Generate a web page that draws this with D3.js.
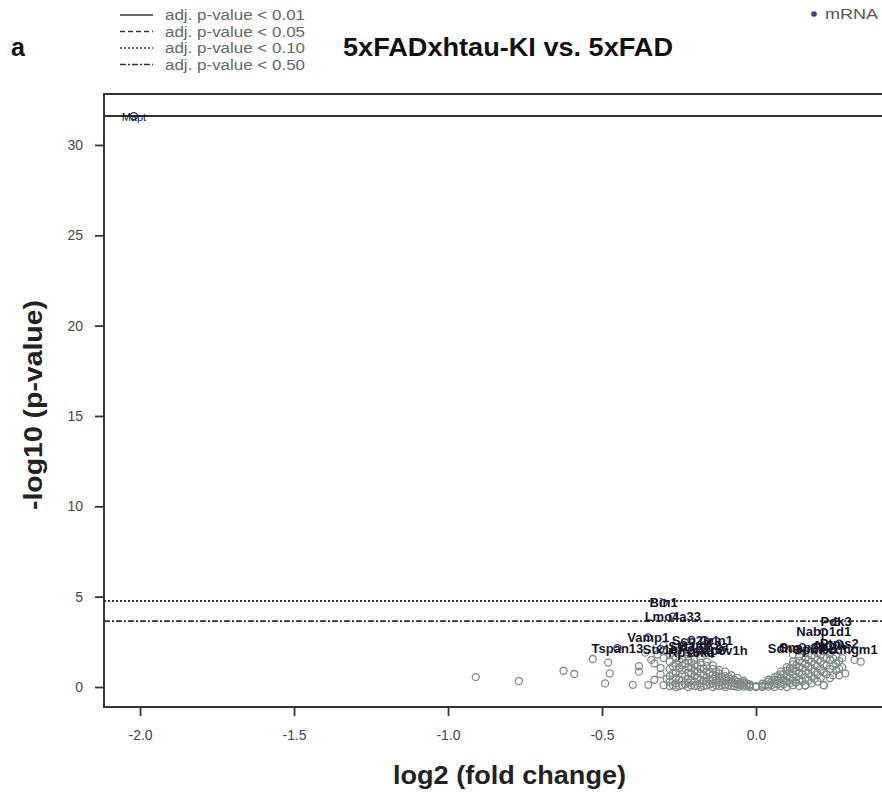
<!DOCTYPE html>
<html>
<head>
<meta charset="utf-8">
<script src="https://cdn.jsdelivr.net/npm/d3@7"></script>
<style>
  body { margin: 0; background: #fff; }
  svg { display: block; font-family: "Liberation Sans", Arial, sans-serif; }
</style>
</head>
<body>
<script>
// Threshold legend entries and their -log10(p) cut-offs
const thresholdLabels = ['adj. p-value < 0.01', 'adj. p-value < 0.05', 'adj. p-value < 0.10', 'adj. p-value < 0.50'];
const thresholdCuts = [31.6, 31.6, 4.76, 3.65];

// Axis ticks
const xTicks = [-2.0, -1.5, -1.0, -0.5, 0.0];
const yTicks = [0, 5, 10, 15, 20, 25, 30];

// Non-significant genes: [log2 fold change, -log10 p]
const grayGenes = [
  [-0.91, 0.55], [-0.77, 0.33], [-0.625, 0.9], [-0.59, 0.72], [-0.53, 1.55], [-0.48, 1.35],
  [-0.475, 0.75], [-0.49, 0.2], [-0.38, 1.15], [-0.38, 0.85], [-0.40, 0.12], [-0.35, 0.12],
  [-0.30, 0.1], [-0.34, 1.5], [-0.31, 1.05], [-0.33, 0.4], [-0.27, 0.1], [-0.32, 1.8],
  [-0.29, 2.0], [-0.36, 1.9],
  [-0.28, 0.05], [-0.28, 0.3], [-0.28, 0.6], [-0.28, 1.0], [-0.28, 1.4], [-0.28, 1.8],
  [-0.26, 0.0], [-0.26, 0.2], [-0.26, 0.5], [-0.26, 0.8], [-0.26, 1.3], [-0.26, 1.6], [-0.26, 2.0],
  [-0.24, 0.1], [-0.24, 0.35], [-0.24, 0.7], [-0.24, 0.95], [-0.24, 1.2], [-0.24, 1.55], [-0.24, 1.9],
  [-0.22, 0.0], [-0.22, 0.25], [-0.22, 0.45], [-0.22, 0.8], [-0.22, 1.1], [-0.22, 1.45], [-0.22, 1.7],
  [-0.20, 0.05], [-0.20, 0.3], [-0.20, 0.6], [-0.20, 0.9], [-0.20, 1.25], [-0.20, 1.5],
  [-0.18, 0.0], [-0.18, 0.2], [-0.18, 0.4], [-0.18, 0.75], [-0.18, 1.0], [-0.18, 1.35], [-0.18, 1.6],
  [-0.16, 0.1], [-0.16, 0.3], [-0.16, 0.55], [-0.16, 0.85], [-0.16, 1.15], [-0.16, 1.4],
  [-0.14, 0.0], [-0.14, 0.2], [-0.14, 0.45], [-0.14, 0.7], [-0.14, 1.0], [-0.14, 1.2],
  [-0.12, 0.05], [-0.12, 0.25], [-0.12, 0.5], [-0.12, 0.75], [-0.12, 0.95],
  [-0.10, 0.0], [-0.10, 0.15], [-0.10, 0.4], [-0.10, 0.6], [-0.10, 0.85],
  [-0.08, 0.05], [-0.08, 0.25], [-0.08, 0.45], [-0.08, 0.65],
  [-0.06, 0.0], [-0.06, 0.15], [-0.06, 0.3], [-0.06, 0.5],
  [-0.04, 0.02], [-0.04, 0.12], [-0.04, 0.25], [-0.04, 0.35],
  [-0.02, 0.0], [-0.02, 0.08], [-0.02, 0.15],
  [0.0, 0.0], [0.0, 0.05],
  [0.02, 0.0], [0.02, 0.08], [0.02, 0.18],
  [0.04, 0.02], [0.04, 0.15], [0.04, 0.3], [0.04, 0.4],
  [0.06, 0.0], [0.06, 0.2], [0.06, 0.4], [0.06, 0.55],
  [0.08, 0.05], [0.08, 0.25], [0.08, 0.5], [0.08, 0.7], [0.08, 0.85],
  [0.10, 0.0], [0.10, 0.3], [0.10, 0.6], [0.10, 0.9], [0.10, 1.1],
  [0.12, 0.1], [0.12, 0.35], [0.12, 0.7], [0.12, 1.0], [0.12, 1.25], [0.12, 1.4],
  [0.14, 0.05], [0.14, 0.4], [0.14, 0.8], [0.14, 1.1], [0.14, 1.45], [0.14, 1.7],
  [0.16, 0.1], [0.16, 0.5], [0.16, 0.9], [0.16, 1.3], [0.16, 1.6], [0.16, 1.9],
  [0.18, 0.2], [0.18, 0.6], [0.18, 1.0], [0.18, 1.4], [0.18, 1.75], [0.18, 2.1],
  [0.20, 0.3], [0.20, 0.7], [0.20, 1.15], [0.20, 1.5], [0.20, 1.9],
  [0.22, 0.1], [0.22, 0.8], [0.22, 1.25], [0.22, 1.65], [0.22, 2.0],
  [0.24, 0.5], [0.24, 1.0], [0.24, 1.5], [0.24, 1.85],
  [0.26, 0.9], [0.26, 1.3], [0.26, 1.7], [0.28, 1.1], [0.28, 1.6],
  [0.32, 1.5], [0.34, 1.4], [0.25, 0.65], [0.27, 0.65], [0.29, 0.75], [0.22, 0.1], [0.16, 0.08],
  [-0.33, 1.3], [-0.31, 0.7], [-0.30, 1.6], [-0.29, 0.45], [-0.27, 0.75], [-0.27, 1.15],
  [-0.25, 0.05], [-0.25, 0.4], [-0.25, 1.05], [-0.25, 1.45], [-0.23, 0.15], [-0.23, 0.6],
  [-0.23, 1.3], [-0.21, 0.1], [-0.21, 0.4], [-0.21, 0.75], [-0.21, 1.05], [-0.21, 1.35],
  [-0.19, 0.1], [-0.19, 0.5], [-0.19, 0.85], [-0.19, 1.15], [-0.17, 0.05], [-0.17, 0.35],
  [-0.17, 0.65], [-0.17, 1.0], [-0.15, 0.15], [-0.15, 0.4], [-0.15, 0.75], [-0.13, 0.1],
  [-0.13, 0.35], [-0.13, 0.6], [-0.13, 0.85], [-0.11, 0.1], [-0.11, 0.3], [-0.11, 0.55],
  [-0.09, 0.1], [-0.09, 0.35], [-0.09, 0.55], [-0.07, 0.05], [-0.07, 0.2], [-0.07, 0.4],
  [-0.05, 0.1], [-0.05, 0.22], [-0.03, 0.05], [-0.03, 0.18],
  [0.03, 0.1], [0.05, 0.1], [0.05, 0.28], [0.07, 0.15], [0.07, 0.35], [0.07, 0.6],
  [0.09, 0.15], [0.09, 0.4], [0.09, 0.7], [0.11, 0.2], [0.11, 0.5], [0.11, 0.8], [0.11, 1.05],
  [0.13, 0.25], [0.13, 0.55], [0.13, 0.9], [0.13, 1.2], [0.15, 0.3], [0.15, 0.7], [0.15, 1.05],
  [0.15, 1.35], [0.17, 0.35], [0.17, 0.75], [0.17, 1.15], [0.17, 1.5], [0.19, 0.45],
  [0.19, 0.85], [0.19, 1.25], [0.19, 1.65], [0.21, 0.5], [0.21, 0.95], [0.21, 1.4], [0.21, 1.8],
  [0.23, 0.7], [0.23, 1.2], [0.23, 1.6], [0.25, 1.15], [0.25, 1.6], [0.27, 1.0], [0.27, 1.45],
  [-0.30, 2.3], [-0.26, 2.4], [-0.20, 2.3], [-0.15, 1.9], [0.12, 1.8], [0.14, 2.0], [0.20, 2.3]
];

// Labelled (significant) genes
const labelGenes = ['Mapt', 'Bin1', 'Lmo4a33', 'Vamp1', 'Scn2b', 'Grin1', 'Tspan13', 'Stx1b', 'Ppp2r5',
  'Atp6v1h', 'Rps6ka', 'Syt1', 'Camk2a', 'Pdk3', 'Nabp1d1', 'Ptms2', 'Sdha', 'Gpm6b', 'Pcdhgm1',
  'Snap25', 'Nrgn'];
const labelFC = [-2.02, -0.30, -0.27, -0.35, -0.21, -0.13, -0.45, -0.31, -0.18,
  -0.11, -0.21, -0.24, -0.17, 0.26, 0.22, 0.27, 0.09, 0.19, 0.30,
  0.15, 0.24];
const labelP = [31.6, 4.65, 3.9, 2.75, 2.6, 2.55, 2.15, 2.1, 2.05,
  2.0, 1.9, 2.25, 2.3, 3.6, 3.05, 2.4, 2.15, 2.1, 2.1,
  2.2, 2.3];

const W = 882, H = 796;
const plot = { left: 104, top: 94, right: 900, bottom: 707 };

const svg = d3.select('body').append('svg')
  .attr('width', W)
  .attr('height', H);

const x = d3.scaleLinear().domain([-2.117, 0.4675]).range([plot.left, plot.right]);
const y = d3.scaleLinear().domain([-1.107, 32.82]).range([plot.bottom, plot.top]);

const axisColor = '#333';
const textGray = '#444';

// Panel letter and title (the source image is a little wider than tall, so texts are stretched)
svg.append('text').attr('x', 11).attr('y', 56)
  .attr('font-size', 25).attr('font-weight', 'bold').attr('fill', '#111').text('a');
svg.append('text').attr('x', 343).attr('y', 56)
  .attr('font-size', 25).attr('font-weight', 'bold').attr('fill', '#111')
  .attr('textLength', 330).attr('lengthAdjust', 'spacingAndGlyphs')
  .text('5xFADxhtau-KI vs. 5xFAD');

// Threshold legend
const dashes = [null, '5,3', '2,2', '6,2,2,2'];
const legend = svg.append('g');
thresholdLabels.forEach((lab, i) => {
  const yy = 15 + i * 16.5;
  legend.append('line').attr('x1', 120).attr('x2', 153).attr('y1', yy).attr('y2', yy)
    .attr('stroke', '#333').attr('stroke-width', 1.5)
    .attr('stroke-dasharray', dashes[i]);
  legend.append('text').attr('x', 165).attr('y', yy + 5)
    .attr('font-size', 14).attr('fill', '#666')
    .attr('textLength', 140).attr('lengthAdjust', 'spacingAndGlyphs')
    .text(lab);
});

// mRNA legend
svg.append('circle').attr('cx', 814).attr('cy', 14).attr('r', 2.8).attr('fill', '#3a3a8a');
svg.append('text').attr('x', 825).attr('y', 19).attr('font-size', 14).attr('fill', '#555')
  .attr('textLength', 53).attr('lengthAdjust', 'spacingAndGlyphs').text('mRNA');

// Clip region for plot contents
svg.append('clipPath').attr('id', 'clip').append('rect')
  .attr('x', plot.left).attr('y', plot.top)
  .attr('width', plot.right - plot.left).attr('height', plot.bottom - plot.top);
const g = svg.append('g').attr('clip-path', 'url(#clip)');

// Threshold lines (draw solid last)
[1, 2, 3, 0].forEach(i => {
  g.append('line')
    .attr('x1', plot.left).attr('x2', plot.right)
    .attr('y1', y(thresholdCuts[i])).attr('y2', y(thresholdCuts[i]))
    .attr('stroke', '#333').attr('stroke-width', i === 0 ? 2 : 1.8)
    .attr('stroke-dasharray', dashes[i]);
});

// Gray points
g.selectAll('circle.gray')
  .data(grayGenes)
  .enter().append('circle')
  .attr('class', 'gray')
  .attr('cx', d => x(d[0]))
  .attr('cy', d => y(d[1]))
  .attr('r', 3.5)
  .attr('fill', 'none')
  .attr('stroke', '#7f8a86')
  .attr('stroke-width', 1.3);

// Labelled genes: points and text
const labelled = labelGenes.map((gene, i) => ({ gene, fc: labelFC[i], p: labelP[i] }));
g.selectAll('circle.sig')
  .data(labelled)
  .enter().append('circle')
  .attr('class', 'sig')
  .attr('cx', d => x(d.fc))
  .attr('cy', d => y(d.p))
  .attr('r', 3.5)
  .attr('fill', 'none')
  .attr('stroke', '#2c2c66')
  .attr('stroke-width', 1.3);
g.selectAll('text.sig')
  .data(labelled)
  .enter().append('text')
  .attr('class', 'sig')
  .attr('x', d => x(d.fc))
  .attr('y', d => y(d.p) + 4.5)
  .attr('text-anchor', 'middle')
  .attr('font-size', d => d.gene === 'Mapt' ? 11 : 13)
  .attr('font-weight', d => d.gene === 'Mapt' ? 'normal' : 'bold')
  .attr('fill', '#15152a')
  .text(d => d.gene);

// Box (left, top, bottom)
svg.append('path')
  .attr('d', `M${plot.right},${plot.top}H${plot.left}V${plot.bottom}H${plot.right}`)
  .attr('fill', 'none').attr('stroke', axisColor).attr('stroke-width', 2);

// X axis
const xAxis = svg.append('g').attr('transform', `translate(0,${plot.bottom})`)
  .call(d3.axisBottom(x).tickValues(xTicks).tickSize(9).tickPadding(14)
    .tickFormat(d => d.toFixed(1)));
xAxis.select('.domain').remove();
xAxis.selectAll('line').attr('stroke', axisColor).attr('stroke-width', 1.8);
xAxis.selectAll('text').attr('font-size', 14).attr('fill', textGray)
  .attr('font-family', '"Liberation Sans", Arial, sans-serif');

// Y axis
const yAxis = svg.append('g').attr('transform', `translate(${plot.left},0)`)
  .call(d3.axisLeft(y).tickValues(yTicks).tickSize(9).tickPadding(12));
yAxis.select('.domain').remove();
yAxis.selectAll('line').attr('stroke', axisColor).attr('stroke-width', 1.8);
yAxis.selectAll('text').attr('font-size', 14).attr('fill', textGray)
  .attr('font-family', '"Liberation Sans", Arial, sans-serif');

// Axis titles
svg.append('text').attr('x', 393).attr('y', 784)
  .attr('font-size', 25).attr('font-weight', 'bold').attr('fill', '#222')
  .attr('textLength', 233).attr('lengthAdjust', 'spacingAndGlyphs')
  .text('log2 (fold change)');
svg.append('text')
  .attr('transform', 'translate(42,510) rotate(-90)')
  .attr('font-size', 25).attr('font-weight', 'bold').attr('fill', '#222')
  .attr('textLength', 210).attr('lengthAdjust', 'spacingAndGlyphs')
  .text('-log10 (p-value)');
</script>
</body>
</html>
